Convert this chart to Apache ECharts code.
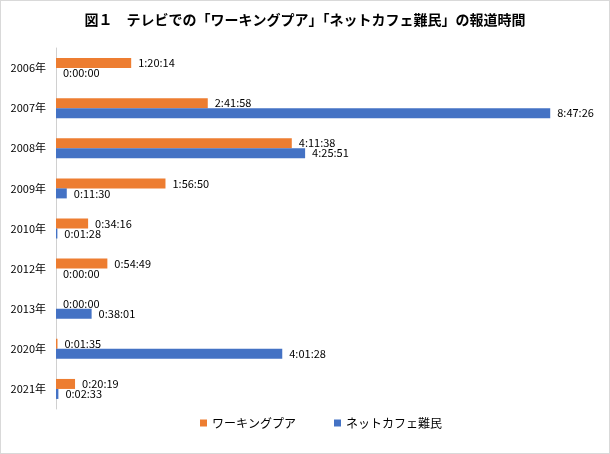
<!DOCTYPE html>
<html><head><meta charset="utf-8">
<script src="https://cdn.jsdelivr.net/npm/echarts@6/dist/echarts.min.js"></script>
<style>html,body{margin:0;padding:0;background:#fff}#c{width:610px;height:454px;box-sizing:border-box;border:1px solid #d9d9d9}</style>
</head><body><div id="c"></div>
<script>
var categories = ['2006年','2007年','2008年','2009年','2010年','2012年','2013年','2020年','2021年'];
var workingPoor = ['1:20:14','2:41:58','4:11:38','1:56:50','0:34:16','0:54:49','0:00:00','0:01:35','0:20:19'];
var netCafe = ['0:00:00','8:47:26','4:25:51','0:11:30','0:01:28','0:00:00','0:38:01','4:01:28','0:02:33'];
var seriesNames = ['ワーキングプア','ネットカフェ難民'];

function toSec(s){var p=s.split(':').map(Number);return p[0]*3600+p[1]*60+p[2];}
function fmt(v){var h=Math.floor(v/3600),m=Math.floor((v%3600)/60),s=v%60;return h+':'+(m<10?'0':'')+m+':'+(s<10?'0':'')+s;}
var FONT = '"Noto Sans CJK JP","Noto Sans",sans-serif';
var chart = echarts.init(document.getElementById('c'));
var lbl = {show:true,position:'right',distance:7,color:'#000',fontSize:11,fontFamily:FONT,formatter:function(p){return fmt(p.value);}};
chart.setOption({
  animation:false,
  title:{text:'図１　テレビでの「ワーキングプア」「ネットカフェ難民」の報道時間',left:'center',top:7,
    textStyle:{fontSize:14,fontWeight:'bold',color:'#000',fontFamily:FONT}},
  legend:{bottom:19,left:194,itemWidth:7,itemHeight:7,itemGap:38,icon:'rect',
    textStyle:{fontSize:12,color:'#000',fontFamily:FONT},data:seriesNames},
  grid:{left:55,right:47,top:47,bottom:44,containLabel:false},
  xAxis:{type:'value',min:0,max:32400,show:false},
  yAxis:{type:'category',inverse:true,data:categories,
    axisLine:{show:true,lineStyle:{color:'#d0d0d0'}},axisTick:{show:false},
    axisLabel:{fontSize:11,color:'#000',margin:10,fontFamily:FONT}},
  series:[
    {name:seriesNames[0],type:'bar',barWidth:10,barGap:'0%',itemStyle:{color:'#ED7D31'},label:lbl,
      data:workingPoor.map(toSec)},
    {name:seriesNames[1],type:'bar',barWidth:10,barGap:'0%',itemStyle:{color:'#4472C4'},label:lbl,
      data:netCafe.map(toSec)}
  ]
});
</script></body></html>
